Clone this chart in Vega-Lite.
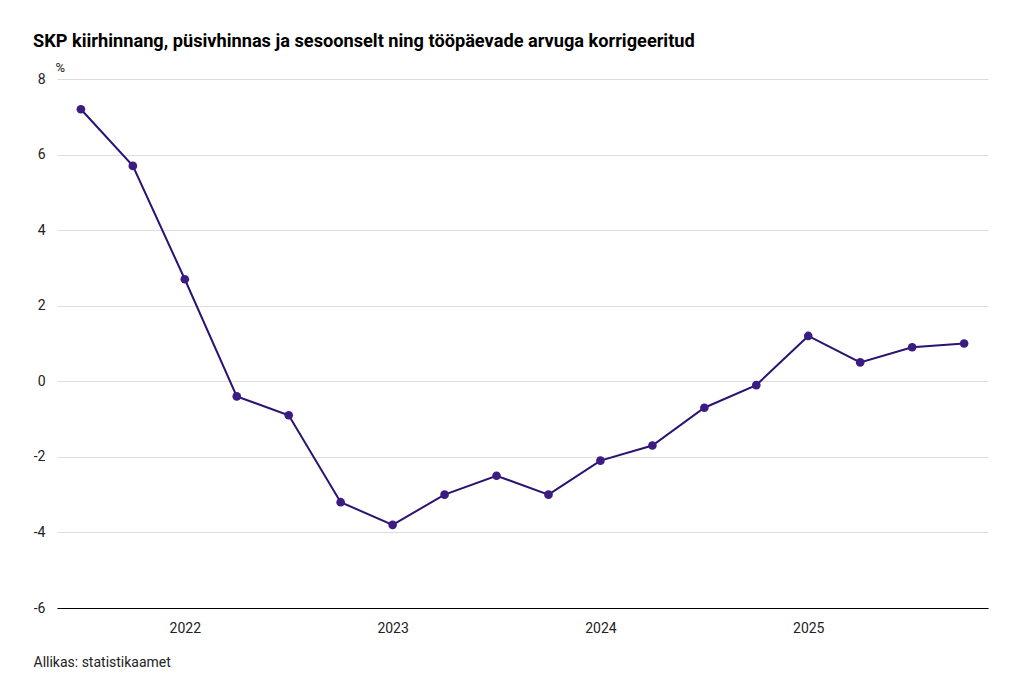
{
  "$schema": "https://vega.github.io/schema/vega-lite/v6.json",
  "width": 931,
  "height": 529,
  "autosize": {"type": "none"},
  "padding": {"left": 57, "top": 79, "right": 36, "bottom": 83},
  "background": "#ffffff",
  "config": {
    "font": "Roboto",
    "view": {"stroke": null}
  },
  "title": {
    "text": "SKP kiirhinnang, püsivhinnas ja sesoonselt ning tööpäevade arvuga korrigeeritud",
    "anchor": "start",
    "frame": "group",
    "font": "Roboto",
    "fontSize": 18.2,
    "fontWeight": "bold",
    "color": "#000000",
    "dx": -24,
    "offset": 10
  },
  "data": {
    "values": [
      {"q": "2021-Q3", "v": 7.2},
      {"q": "2021-Q4", "v": 5.7},
      {"q": "2022-Q1", "v": 2.7},
      {"q": "2022-Q2", "v": -0.4},
      {"q": "2022-Q3", "v": -0.9},
      {"q": "2022-Q4", "v": -3.2},
      {"q": "2023-Q1", "v": -3.8},
      {"q": "2023-Q2", "v": -3.0},
      {"q": "2023-Q3", "v": -2.5},
      {"q": "2023-Q4", "v": -3.0},
      {"q": "2024-Q1", "v": -2.1},
      {"q": "2024-Q2", "v": -1.7},
      {"q": "2024-Q3", "v": -0.7},
      {"q": "2024-Q4", "v": -0.1},
      {"q": "2025-Q1", "v": 1.2},
      {"q": "2025-Q2", "v": 0.5},
      {"q": "2025-Q3", "v": 0.9},
      {"q": "2025-Q4", "v": 1.0}
    ]
  },
  "encoding": {
    "x": {
      "field": "q",
      "type": "ordinal",
      "sort": null,
      "scale": {"type": "point", "padding": 0.46},
      "axis": {
        "labelExpr": "indexof(datum.value, 'Q1') > 0 ? slice(datum.value, 0, 4) : ''",
        "labelAngle": 0,
        "labelFontSize": 14,
        "labelColor": "#222222",
        "labelPadding": 13,
        "ticks": false,
        "domainColor": "#000000",
        "domainWidth": 1.2,
        "grid": false,
        "title": "Allikas: statistikaamet",
        "titleFontSize": 14,
        "titleFontWeight": "normal",
        "titleColor": "#222222",
        "titleAnchor": "start",
        "titleAlign": "left",
        "titleX": -24,
        "titleY": 58,
        "titleBaseline": "alphabetic"
      }
    },
    "y": {
      "field": "v",
      "type": "quantitative",
      "scale": {"domain": [-6, 8], "nice": false, "zero": false},
      "axis": {
        "values": [-6, -4, -2, 0, 2, 4, 6, 8],
        "labelExpr": "'' + datum.value",
        "labelFontSize": 14,
        "labelColor": "#222222",
        "labelPadding": 12,
        "ticks": false,
        "domain": false,
        "gridColor": "#dddddd",
        "gridWidth": 1,
        "title": "%",
        "titleAngle": 0,
        "titleFontSize": 13,
        "titleFontWeight": "normal",
        "titleColor": "#222222",
        "titleX": -2,
        "titleY": -5,
        "titleAlign": "left",
        "titleBaseline": "bottom"
      }
    }
  },
  "layer": [
    {"mark": {"type": "line", "color": "#2c1272", "strokeWidth": 2}},
    {"mark": {"type": "point", "filled": true, "color": "#3a1c82", "opacity": 1, "size": 75}}
  ]
}
